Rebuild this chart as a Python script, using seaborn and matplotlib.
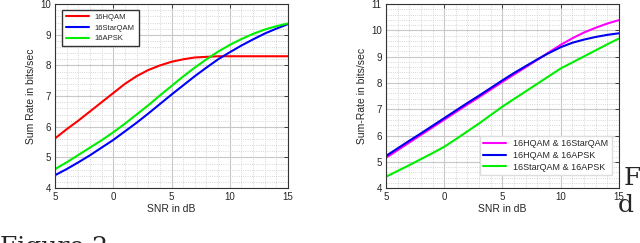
import pandas as pd
import seaborn as sns
import matplotlib.pyplot as plt
from matplotlib.ticker import MultipleLocator

snr = list(range(-5, 16))

# left panel: sum rate per constellation
hqam = [5.62, 5.92, 6.2, 6.5, 6.8, 7.1, 7.4, 7.65, 7.85, 8.0, 8.12,
        8.2, 8.26, 8.28, 8.3, 8.3, 8.3, 8.3, 8.3, 8.3, 8.3]
starqam = [4.42, 4.62, 4.84, 5.07, 5.32, 5.57, 5.85, 6.13, 6.43, 6.74, 7.05,
           7.35, 7.65, 7.93, 8.2, 8.43, 8.65, 8.85, 9.04, 9.2, 9.35]
apsk = [4.62, 4.84, 5.08, 5.32, 5.56, 5.82, 6.1, 6.4, 6.7, 7.02, 7.33,
        7.64, 7.93, 8.2, 8.45, 8.67, 8.86, 9.03, 9.17, 9.28, 9.37]
left_names = ['16HQAM', '16StarQAM', '16APSK']

# right panel: sum rate per constellation pair
hqam_star = [5.15, 5.44, 5.73, 6.02, 6.31, 6.6, 6.89, 7.18, 7.46, 7.75, 8.04,
             8.32, 8.6, 8.88, 9.17, 9.45, 9.7, 9.92, 10.1, 10.26, 10.39]
hqam_apsk = [5.22, 5.51, 5.8, 6.08, 6.37, 6.66, 6.95, 7.24, 7.52, 7.81, 8.1,
             8.38, 8.64, 8.9, 9.14, 9.36, 9.53, 9.65, 9.75, 9.83, 9.89]
star_apsk = [4.43, 4.65, 4.87, 5.1, 5.33, 5.57, 5.86, 6.16, 6.46, 6.78, 7.1,
             7.39, 7.68, 7.97, 8.26, 8.55, 8.78, 9.01, 9.24, 9.47, 9.69]
right_names = ['16HQAM & 16StarQAM', '16HQAM & 16APSK', '16StarQAM & 16APSK']

x_ticks = [-5, 0, 5, 10, 15]
x_ticklabels = ['5', '0', '5', '10', '15']

sns.set_style('white')
plt.rcParams['font.family'] = ['Liberation Sans', 'DejaVu Sans']


def long_df(names, series):
    rows = []
    for name, vals in zip(names, series):
        for s, v in zip(snr, vals):
            rows.append({'snr': s, 'rate': v, 'scheme': name})
    return pd.DataFrame(rows)


def style_ax(ax, ylim, ylabel):
    ax.set_xlim(-5, 15)
    ax.set_ylim(*ylim)
    ax.set_xticks(x_ticks)
    ax.set_xticklabels(x_ticklabels)
    ax.xaxis.set_minor_locator(MultipleLocator(1))
    ax.yaxis.set_minor_locator(MultipleLocator(0.2))
    ax.grid(which='major', color='#c8c8c8', lw=0.8, ls='-')
    ax.grid(which='minor', color='#c8c8c8', lw=0.6, ls=':')
    ax.set_axisbelow(True)
    ax.tick_params(which='both', direction='in', top=True, right=True,
                   labelsize=7, pad=3, length=3, width=0.6)
    ax.tick_params(which='minor', length=0)
    for sp in ax.spines.values():
        sp.set_color('#333333')
        sp.set_linewidth(0.8)
    ax.set_xlabel('SNR in dB', fontsize=7.5, labelpad=1)
    ax.set_ylabel(ylabel, fontsize=7.5, labelpad=3)


fig = plt.figure(figsize=(6.4, 2.43), dpi=100)
ax1 = fig.add_axes([0.086, 0.226, 0.364, 0.757])
ax2 = fig.add_axes([0.603, 0.226, 0.364, 0.757])

sns.lineplot(data=long_df(left_names, [hqam, starqam, apsk]), x='snr', y='rate',
             hue='scheme', palette=['#ff0000', '#0000ff', '#00ee00'], lw=1.5, ax=ax1)
style_ax(ax1, (4, 10), 'Sum Rate in bits/sec')
ax1.legend(loc='upper left', fontsize=5.5, frameon=True, fancybox=False,
           edgecolor='#333333', framealpha=1, borderpad=0.5, handlelength=3.0,
           labelspacing=0.45, borderaxespad=0, bbox_to_anchor=(0.03, 0.97))

sns.lineplot(data=long_df(right_names, [hqam_star, hqam_apsk, star_apsk]), x='snr', y='rate',
             hue='scheme', palette=['#ff00ff', '#0000ee', '#00ee00'], lw=1.5, ax=ax2)
style_ax(ax2, (4, 11), 'Sum-Rate in bits/sec')
ax2.legend(loc='lower right', fontsize=6.5, frameon=True, fancybox=False,
           edgecolor='#dddddd', framealpha=1, borderpad=0.4, handlelength=2.5,
           labelspacing=0.3, borderaxespad=0, bbox_to_anchor=(0.97, 0.07))

# caption fragments cropped from the page
fig.text(0.0, -0.045, 'Figure 2:', family='DejaVu Serif', fontsize=18, va='baseline')
fig.text(0.975, 1 - 185 / 243, 'Fi', family='DejaVu Serif', fontsize=18, va='baseline')
fig.text(0.966, 1 - 212 / 243, 'd', family='DejaVu Serif', fontsize=18, va='baseline')

plt.savefig('out.png', dpi=100)
plt.close()
